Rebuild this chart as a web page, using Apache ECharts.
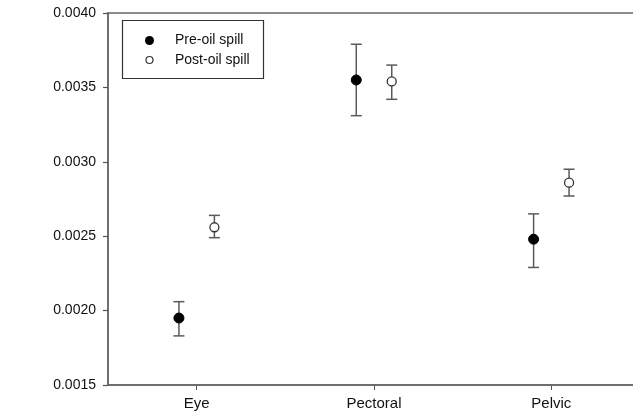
<!DOCTYPE html>
<html>
<head>
<meta charset="utf-8">
<script src="https://cdn.jsdelivr.net/npm/echarts@6/dist/echarts.min.js"></script>
<style>html,body{margin:0;padding:0;background:#fff}#c{width:633px;height:420px}</style>
</head>
<body>
<div id="c"></div>
<script>
var categories = ['Eye', 'Pectoral', 'Pelvic'];
var preMean = [0.00195, 0.00355, 0.00248];
var preLow  = [0.00183, 0.00331, 0.00229];
var preHigh = [0.00206, 0.00379, 0.00265];
var postMean = [0.00256, 0.00354, 0.00286];
var postLow  = [0.00249, 0.00342, 0.00277];
var postHigh = [0.00264, 0.00365, 0.00295];
var yTicks = [0.0015, 0.0020, 0.0025, 0.0030, 0.0035, 0.0040];

var OFF = 0.1;
var catPos = categories.map(function (c, i) { return i + 1; });
function pts(mean, off) { return mean.map(function (v, i) { return [i + 1 + off, v]; }); }
function errs(lo, hi, off) { return lo.map(function (v, i) { return [i + 1 + off, v, hi[i]]; }); }

function errRender(params, api) {
  var x = api.value(0);
  var lo = api.coord([x, api.value(1)]);
  var hi = api.coord([x, api.value(2)]);
  var w = 5.5;
  var st = { stroke: '#5a5a5a', lineWidth: 1.5 };
  return {
    type: 'group',
    children: [
      { type: 'line', shape: { x1: lo[0], y1: lo[1], x2: hi[0], y2: hi[1] }, style: st },
      { type: 'line', shape: { x1: lo[0] - w, y1: lo[1], x2: lo[0] + w, y2: lo[1] }, style: st },
      { type: 'line', shape: { x1: hi[0] - w, y1: hi[1], x2: hi[0] + w, y2: hi[1] }, style: st }
    ]
  };
}

var chart = echarts.init(document.getElementById('c'));
var axisLine = { show: true, lineStyle: { color: '#666', width: 1.5 } };
chart.setOption({
  animation: false,
  grid: { left: 108, width: 532, top: 13, bottom: 35, outerBoundsMode: 'none', containLabel: false,
          show: true, borderColor: '#666', borderWidth: 1.5 },
  xAxis: {
    type: 'value', min: 0.5, max: 3.5, interval: 0.5,
    axisLine: axisLine,
    axisTick: { show: true, length: 5, lineStyle: { color: '#555' }, customValues: catPos },
    splitLine: { show: false },
    axisLabel: {
      fontSize: 15, color: '#111', fontFamily: 'Liberation Sans, Arial', margin: 11,
      customValues: catPos,
      formatter: function (v) { return categories[Math.round(v) - 1] || ''; }
    }
  },
  yAxis: {
    type: 'value', min: 0.0015, max: 0.0040, interval: 0.0005,
    axisLine: axisLine,
    axisTick: { show: true, length: 5, lineStyle: { color: '#555', width: 1.2 } },
    splitLine: { show: false },
    axisLabel: {
      fontSize: 14, color: '#111', fontFamily: 'Liberation Sans, Arial', margin: 12,
      customValues: yTicks,
      formatter: function (v) { return v.toFixed(4); }
    }
  },
  series: [
    { type: 'custom', renderItem: errRender, data: errs(preLow, preHigh, -OFF), encode: { x: 0, y: [1, 2] }, z: 1 },
    { type: 'custom', renderItem: errRender, data: errs(postLow, postHigh, OFF), encode: { x: 0, y: [1, 2] }, z: 1 },
    { name: 'Pre-oil spill', type: 'scatter', data: pts(preMean, -OFF), symbolSize: 10,
      itemStyle: { color: '#000', borderColor: '#000', borderWidth: 1, opacity: 1 }, z: 3 },
    { name: 'Post-oil spill', type: 'scatter', data: pts(postMean, OFF), symbolSize: 9,
      itemStyle: { color: '#fff', borderColor: '#333', borderWidth: 1.3, opacity: 1 }, z: 3 }
  ],
  graphic: [
    { type: 'rect', shape: { x: 122.5, y: 20.5, width: 141, height: 58 }, style: { fill: '#fff', stroke: '#333', lineWidth: 1.2 }, z: 10 },
    { type: 'circle', shape: { cx: 149.5, cy: 40.5, r: 4.5 }, style: { fill: '#000' }, z: 11 },
    { type: 'circle', shape: { cx: 149.5, cy: 60, r: 3.5 }, style: { fill: '#fff', stroke: '#333', lineWidth: 1.2 }, z: 11 },
    { type: 'text', x: 175, y: 40.5, style: { text: 'Pre-oil spill', fontSize: 14, fill: '#111', fontFamily: 'Liberation Sans, Arial', verticalAlign: 'middle' }, z: 11 },
    { type: 'text', x: 175, y: 60, style: { text: 'Post-oil spill', fontSize: 14, fill: '#111', fontFamily: 'Liberation Sans, Arial', verticalAlign: 'middle' }, z: 11 }
  ]
});
</script>
</body>
</html>
